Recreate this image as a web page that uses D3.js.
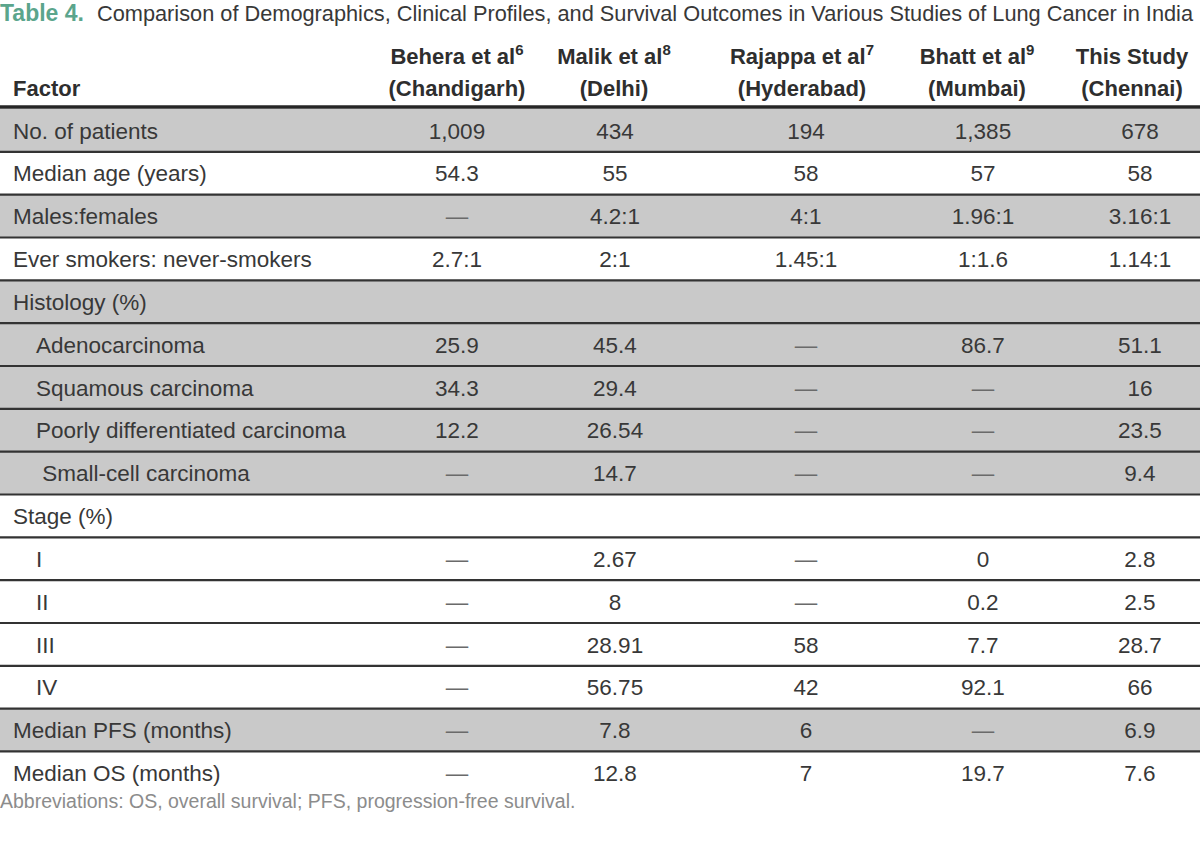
<!DOCTYPE html>
<html>
<head>
<meta charset="UTF-8">
<title>Table 4: lung cancer studies in India</title>
<style>
  body { margin: 0; background: #fff; }
  svg text { font-family: 'Liberation Sans', Arial, sans-serif; }
</style>
<script src="https://cdn.jsdelivr.net/npm/d3@7/dist/d3.min.js"></script>
</head>
<body>
<svg id="table" width="1200" height="841"></svg>
<script>
// table content
var tableNo = "Table 4."
var caption = "Comparison of Demographics, Clinical Profiles, and Survival Outcomes in Various Studies of Lung Cancer in India"
var footnote = "Abbreviations: OS, overall survival; PFS, progression-free survival."

var studies = ["Behera et al", "Malik et al", "Rajappa et al", "Bhatt et al", "This Study"]
var refs    = ["6", "8", "7", "9", ""]
var cities  = ["(Chandigarh)", "(Delhi)", "(Hyderabad)", "(Mumbai)", "(Chennai)"]

var factors = ["No. of patients", "Median age (years)", "Males:females", "Ever smokers: never-smokers",
  "Histology (%)", "Adenocarcinoma", "Squamous carcinoma", "Poorly differentiated carcinoma",
  "\u00a0Small-cell carcinoma", "Stage (%)", "I", "II", "III", "IV",
  "Median PFS (months)", "Median OS (months)"]
// 0 = main factor, 1 = sub item
var levels = [0, 0, 0, 0, 0, 1, 1, 1, 1, 0, 1, 1, 1, 1, 0, 0]

var D = "\u2014"
var behera  = ["1,009", "54.3", D, "2.7:1", "", "25.9", "34.3", "12.2", D, "", D, D, D, D, D, D]
var malik   = ["434", "55", "4.2:1", "2:1", "", "45.4", "29.4", "26.54", "14.7", "", "2.67", "8", "28.91", "56.75", "7.8", "12.8"]
var rajappa = ["194", "58", "4:1", "1.45:1", "", D, D, D, D, "", D, D, "58", "42", "6", "7"]
var bhatt   = ["1,385", "57", "1.96:1", "1:1.6", "", "86.7", D, D, D, "", "0", "0.2", "7.7", "92.1", D, "19.7"]
var chennai = ["678", "58", "3.16:1", "1.14:1", "", "51.1", "16", "23.5", "9.4", "", "2.8", "2.5", "28.7", "66", "6.9", "7.6"]
var columns = [behera, malik, rajappa, bhatt, chennai]

// rows with grey background (layout of the printed table)
var shadedRows = [0, 2, 4, 5, 6, 7, 8, 14]

var svg = d3.select("#table")
var W = 1200
var textColor = "#383838"

var y = d3.scaleLinear().domain([0, factors.length]).range([109, 794.3])
var xHead = d3.scaleOrdinal().domain(studies).range([457, 614, 802, 977, 1132])
var xVal = d3.scaleOrdinal().domain(d3.range(studies.length)).range([457, 615, 806, 983, 1140])

// caption
svg.append("text").attr("x", 0).attr("y", 21).attr("font-size", 23)
  .attr("fill", "#5ba58c").attr("font-weight", "bold").text(tableNo)
svg.append("text").attr("x", 97).attr("y", 21).attr("font-size", 21.5)
  .attr("fill", textColor)
  .attr("textLength", 1096).attr("lengthAdjust", "spacingAndGlyphs")
  .text(caption)

// shaded rows
svg.selectAll("rect.shade").data(shadedRows).enter().append("rect")
  .attr("class", "shade")
  .attr("x", 0).attr("width", W)
  .attr("y", function(i) { return y(i) })
  .attr("height", function(i) { return y(i + 1) - y(i) })
  .attr("fill", "#c9c9c9")

// header
var head = svg.append("g").attr("font-weight", "bold").attr("font-size", 22).attr("fill", "#2e2e2e")
head.append("text").attr("x", 13).attr("y", 96).text("Factor")
var h1 = head.selectAll("text.h1").data(studies).enter().append("text")
  .attr("class", "h1").attr("text-anchor", "middle")
  .attr("x", function(d) { return xHead(d) }).attr("y", 64)
h1.append("tspan").text(function(d) { return d })
h1.append("tspan").attr("font-size", 15).attr("dy", -9).text(function(d, i) { return refs[i] })
head.selectAll("text.h2").data(cities).enter().append("text")
  .attr("class", "h2").attr("text-anchor", "middle")
  .attr("x", function(d, i) { return xHead(studies[i]) }).attr("y", 96)
  .text(function(d) { return d })

// rules
svg.append("line").attr("x1", 0).attr("x2", W).attr("y1", 107).attr("y2", 107)
  .attr("stroke", "#262626").attr("stroke-width", 3.5)
svg.selectAll("line.rule").data(d3.range(1, factors.length)).enter().append("line")
  .attr("class", "rule")
  .attr("x1", 0).attr("x2", W)
  .attr("y1", function(i) { return y(i) }).attr("y2", function(i) { return y(i) })
  .attr("stroke", "#333").attr("stroke-width", 2.2)

// body
var rows = svg.selectAll("g.row").data(factors).enter().append("g")
  .attr("class", "row")
  .attr("transform", function(d, i) { return "translate(0," + (y(i) + y(i + 1)) / 2 + ")" })
  .attr("font-size", 22.5).attr("fill", textColor)

rows.append("text")
  .attr("x", function(d, i) { return levels[i] ? 36 : 13 })
  .attr("dy", "0.36em")
  .text(function(d) { return d })

rows.each(function(d, r) {
  d3.select(this).selectAll("text.val").data(columns.map(function(c) { return c[r] })).enter()
    .append("text")
    .attr("class", "val")
    .attr("text-anchor", "middle")
    .attr("x", function(v, c) { return xVal(c) })
    .attr("dy", "0.36em")
    .attr("fill", function(v) { return v === D ? "#6a6a6a" : textColor })
    .text(function(v) { return v })
})

svg.append("text").attr("x", 0).attr("y", 808).attr("font-size", 19.5)
  .attr("fill", "#8c8c8c").text(footnote)
</script>
</body>
</html>
